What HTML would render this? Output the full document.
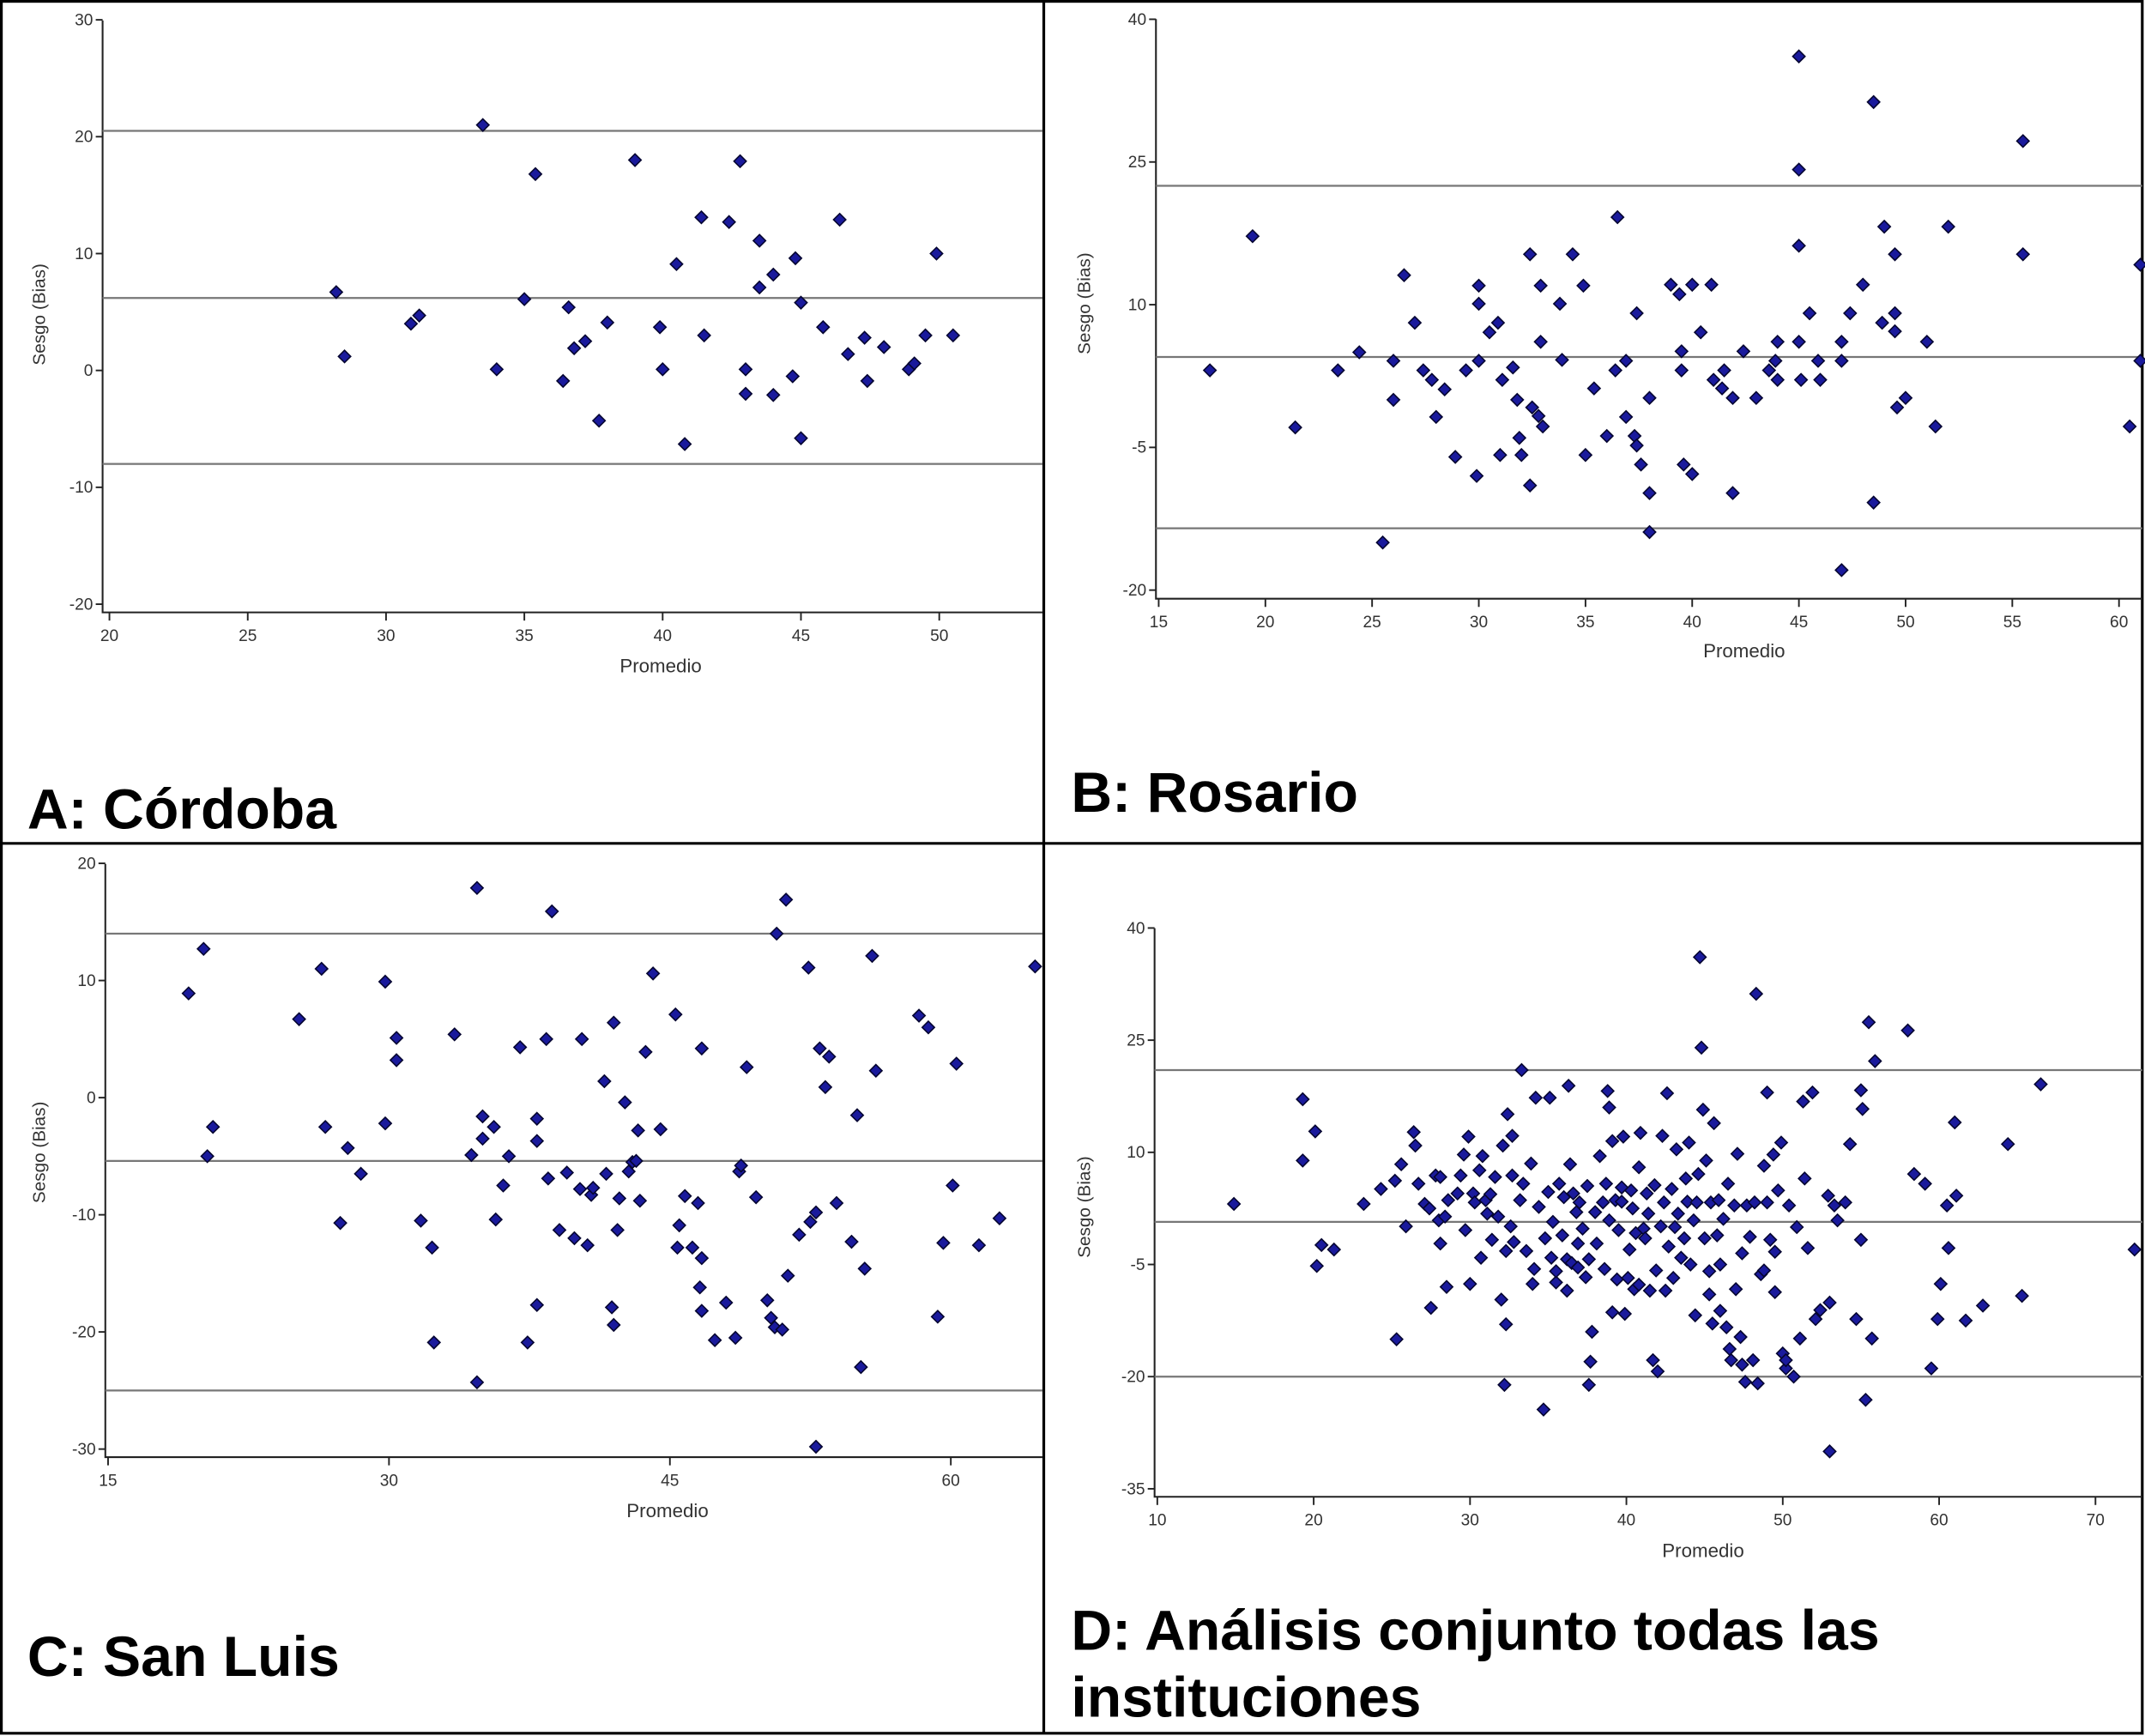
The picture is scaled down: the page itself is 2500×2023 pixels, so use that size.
<!DOCTYPE html>
<html><head><meta charset="utf-8"><style>
html,body{margin:0;padding:0;background:#fff}
svg{display:block}
text{font-family:"Liberation Sans",Arial,sans-serif}
</style></head><body>
<svg id="chart" xmlns="http://www.w3.org/2000/svg" width="2500" height="2023" viewBox="0 0 1568 1270" preserveAspectRatio="none">
<rect x="0" y="0" width="1568" height="1270" fill="#fff"/>
<g stroke="#000" stroke-width="2" fill="none">
<rect x="1" y="1" width="1565" height="1267"/>
<line x1="763" y1="1" x2="763" y2="1268"/>
<line x1="1" y1="617" x2="1566" y2="617"/>
</g>
<text x="20" y="606" font-size="41.5" font-weight="bold">A: Córdoba</text>
<text x="783" y="594" font-size="41.5" font-weight="bold">B: Rosario</text>
<text x="20" y="1226" font-size="41.5" font-weight="bold">C: San Luis</text>
<text x="783" y="1207" font-size="41.5" font-weight="bold">D: Análisis conjunto todas las</text>
<text x="783" y="1256" font-size="41.5" font-weight="bold">instituciones</text>
</svg>
<script>
// ---- data ----
const aX=[28.2,28.5,30.9,31.2,33.5,34,35,35.4,36.4,36.6,36.8,37.2,37.7,38,39,39.9,40,40.5,40.8,41.4,41.5,42.4,42.8,43,43,43.5,43.5,44,44,44.7,44.8,45,45,45.8,46.4,46.7,47.3,47.4,48,48.9,49.1,49.5,49.9,50.5];
const aY=[6.7,1.2,4,4.7,21,0.1,6.1,16.8,-0.9,5.4,1.9,2.5,-4.3,4.1,18,3.7,0.1,9.1,-6.3,13.1,3,12.7,17.9,0.1,-2,11.1,7.1,8.2,-2.1,-0.5,9.6,5.8,-5.8,3.7,12.9,1.4,2.8,-0.9,2,0.1,0.6,3,10,3];
const aLines=[20.5,6.2,-8];
const aXTicks=[20,25,30,35,40,45,50];
const aYTicks=[30,20,10,0,-10,-20];

const bX=[17.4,19.4,21.4,23.4,24.4,25.5,26,26,26.5,27,27.4,27.8,28,28.4,28.9,29.4,29.9,30,30,30,30.5,30.9,31,31.1,31.6,31.8,31.9,32,32.4,32.4,32.5,32.8,32.9,32.9,33,33.8,33.9,34.4,34.9,35,35.4,36,36.4,36.5,36.9,36.9,37.3,37.4,37.4,37.6,38,38,38,39,39.4,39.5,39.5,39.6,40,40,40.4,40.9,41,41.4,41.5,41.9,41.9,42.4,43,43.6,43.9,44,44,45,45,45,45,45.1,45.5,45.9,46,47,47,47,47.4,48,48.5,48.5,49,48.9,49.5,49.5,49.5,49.6,50,51,51.4,52,55.5,55.5,60.5,61,61];
const bY=[3.1,17.2,-2.9,3.1,5,-15,4.1,0,13.1,8.1,3.1,2.1,-1.8,1.1,-6,3.1,-8,12,10.1,4.1,7.1,8.1,-5.8,2.1,3.4,0,-4,-5.8,-9,15.3,-0.8,-1.7,6.1,12,-2.8,10.1,4.2,15.3,12,-5.8,1.2,-3.8,3.1,19.2,4.1,-1.8,-3.8,9.1,-4.8,-6.8,0.2,-9.8,-13.9,12.1,11.1,5.1,3.1,-6.8,12.1,-7.8,7.1,12.1,2.1,1.2,3.1,0.2,-9.8,5.1,0.2,3.1,4.1,2.1,6.1,36.1,24.2,16.2,6.1,2.1,9.1,4.1,2.1,6.1,4.1,-17.9,9.1,12.1,31.3,-10.8,18.2,8.1,9.1,7.2,15.3,-0.8,0.2,6.1,-2.8,18.2,27.2,15.3,-2.8,14.2,4.1];
const bLines=[22.5,4.5,-13.5];
const bXTicks=[15,20,25,30,35,40,45,50,55,60];
const bYTicks=[40,25,10,-5,-20];

const cX=[19.3,20.1,20.3,20.6,25.2,26.4,26.6,27.4,27.8,28.5,29.8,29.8,30.4,30.4,31.7,32.3,32.4,33.5,34.4,34.7,34.7,35,35,35.6,35.7,36.1,36.4,37,37.4,37.9,37.9,37.9,38.4,38.5,38.7,39.1,39.5,39.9,40.2,40.3,40.6,40.8,40.9,41.5,41.6,41.9,42,42,42.2,42.3,42.6,42.8,43,43.2,43.3,43.4,43.7,44.1,44.5,45.3,45.4,45.5,45.8,46.2,46.5,46.6,46.7,46.7,46.7,47.4,48,48.5,48.7,48.8,49.1,49.6,50.2,50.4,50.6,50.7,51,51.2,51.3,51.9,52.4,52.5,52.8,52.8,53,53.3,53.5,53.9,54.7,55,55.2,55.4,55.8,56,58.3,58.8,59.3,59.6,60.1,60.3,61.5,62.6,64.5];
const cY=[8.9,12.7,-5,-2.5,6.7,11,-2.5,-10.7,-4.3,-6.5,9.9,-2.2,5.1,3.2,-10.5,-12.8,-20.9,5.4,-4.9,17.9,-24.3,-3.5,-1.6,-2.5,-10.4,-7.5,-5,4.3,-20.9,-1.8,-3.7,-17.7,5,-6.9,15.9,-11.3,-6.4,-12,-7.8,5,-12.6,-8.3,-7.7,1.4,-6.5,-17.9,-19.4,6.4,-11.3,-8.6,-0.4,-6.3,-5.5,-5.4,-2.8,-8.8,3.9,10.6,-2.7,7.1,-12.8,-10.9,-8.4,-12.8,-9,-16.2,4.2,-13.7,-18.2,-20.7,-17.5,-20.5,-6.3,-5.8,2.6,-8.5,-17.3,-18.8,-19.6,14,-19.8,16.9,-15.2,-11.7,11.1,-10.6,-9.8,-29.8,4.2,0.9,3.5,-9,-12.3,-1.5,-23,-14.6,12.1,2.3,7,6,-18.7,-12.4,-7.5,2.9,-12.6,-10.3,11.2];
const cLines=[14,-5.4,-25];
const cXTicks=[15,30,45,60];
const cYTicks=[20,10,0,-10,-20,-30];

const dX=[14.9,19.3,19.3,20.1,20.2,20.5,21.3,23.2,24.3,25.2,25.3,25.6,25.9,26.4,26.5,26.7,27.1,27.4,27.5,27.8,28,28.1,28.1,28.4,28.5,28.6,29.2,29.4,29.6,29.7,29.9,30,30.2,30.3,30.6,30.7,30.8,31,31.1,31.3,31.4,31.6,31.8,32,32.1,32.2,32.3,32.3,32.4,32.6,32.7,32.7,32.8,33.2,33.3,33.4,33.6,33.9,34,34.1,34.2,34.4,34.7,34.8,35,35.1,35.2,35.3,35.5,35.5,35.7,35.9,36,36.2,36.2,36.3,36.4,36.5,36.6,36.8,36.9,36.9,37,37.2,37.4,37.5,37.6,37.6,37.7,37.8,38,38.1,38.3,38.5,38.6,38.7,38.8,38.9,38.9,39.1,39.1,39.3,39.4,39.5,39.7,39.7,39.8,39.9,40.1,40.2,40.3,40.4,40.5,40.6,40.8,40.8,40.9,41.1,41.2,41.3,41.4,41.5,41.7,41.8,41.9,42,42.2,42.3,42.4,42.5,42.6,42.7,42.9,43,43.1,43.2,43.3,43.5,43.7,43.8,43.9,44,44.1,44.3,44.4,44.5,44.6,44.7,44.8,44.9,45,45.1,45.3,45.3,45.4,45.5,45.6,45.8,45.9,46,46,46.2,46.4,46.5,46.6,46.7,46.9,47,47.1,47.3,47.4,47.4,47.6,47.7,47.9,48.1,48.2,48.3,48.4,48.6,48.8,48.8,49,49,49.2,49.4,49.5,49.5,49.7,49.9,50,50.2,50.2,50.4,50.7,50.9,51.1,51.3,51.4,51.6,51.9,52.1,52.4,52.9,53,53,53.3,53.5,54,54.3,54.7,55,55,55.1,55.3,55.5,55.7,55.9,58,58.4,59.1,59.5,59.9,60.1,60.5,60.6,61,61.1,61.7,62.8,64.4,65.3,66.5,72.5];
const dY=[3.1,17.1,8.9,12.8,-5.2,-2.4,-3,3.1,5.1,6.2,-15,8.4,0.1,12.7,10.9,5.8,3.1,2.5,-10.8,6.9,0.9,-2.2,6.7,1.4,-8,3.6,4.5,6.9,9.7,-0.4,12.1,-7.6,4.5,3.3,7.6,-4.1,9.5,3.6,1.8,4.4,-1.7,6.7,1.4,-9.7,10.9,-21.1,-3.2,-13,15.1,0.1,12.2,6.9,-2,3.6,21,5.8,-3.2,8.5,-7.6,-5.6,17.3,2.7,-24.4,-1.5,4.7,17.3,-4.1,0.7,-7.4,-5.9,5.8,-1.1,4,-8.5,-4.3,18.9,8.4,-4.8,4.5,2,-2.2,-5.4,3.3,-0.2,-6.7,5.5,-21.1,-4.3,-18,-14,2,-2.2,9.5,3.3,-5.6,5.8,18.2,16,0.9,-11.4,11.5,3.6,-7,-0.4,3.4,5.3,12.1,-11.6,-6.8,-3,4.9,2.5,-8.3,-0.8,8,-7.7,12.6,-0.2,-1.5,4.5,1.8,-8.5,-17.8,5.6,-5.8,-19.3,0.1,12.2,3.3,-8.5,17.9,-2.6,5.1,-6.8,0,10.4,1.8,-4.1,-1.5,6.5,3.4,11.3,-5,0.9,-11.8,3.3,7.1,36.1,24,15.7,-1.5,8.9,-5.9,-9,3.3,-12.9,13.9,-1.1,3.6,-5,-11.2,1.1,-13.4,5.8,-16.3,-17.8,2.9,-8.3,9.8,-14.7,-18.4,-3.5,-20.7,2.9,-1.3,-17.8,3.3,31.2,-20.9,-6.3,-5.8,8.2,18,3.3,-1.7,9.7,-3.3,-8.7,4.9,11.3,-16.9,-18.9,-17.8,2.9,-20,0,-14.9,16.8,6.5,-2.8,18,-12.3,-11.1,4.2,-10.1,-30,2.9,0.9,3.3,11.1,-12.3,18.3,-1.7,15.8,-23.1,27.4,-14.9,22.2,26.3,7.1,5.8,-18.9,-12.3,-7.6,2.9,-2.8,14,4.2,-12.5,-10.5,11.1,-9.2,19.1,-3];
const dLines=[21,0.7,-20];
const dXTicks=[10,20,30,40,50,60,70];
const dYTicks=[40,25,10,-5,-20,-35];

// ---- drawing ----
const NS='http://www.w3.org/2000/svg';
const svg=document.getElementById('chart');
function mk(tag,attrs,parent){const e=document.createElementNS(NS,tag);for(const k in attrs)e.setAttribute(k,attrs[k]);(parent||svg).appendChild(e);return e;}

function panel(id,xs,ys,lines,xt,yt,g){
  const sx=v=>g.x0+(v-g.xv0)*g.kx;
  const sy=v=>g.y0-v*g.ky;
  const grp=mk('g',{});
  
  
  const ax=mk('path',{d:`M${g.L},${g.T}V${g.B}H${g.R}`,stroke:'#222','stroke-width':1.3,fill:'none'},grp);
  
  
  xt.forEach(v=>{
    const x=sx(v);
    mk('line',{x1:x,y1:g.B,x2:x,y2:g.B+6,stroke:'#222','stroke-width':1.2},grp);
    const t=mk('text',{x:x,y:g.B+21,'font-size':12,'text-anchor':'middle',fill:'#333'},grp);
    t.textContent=v;
    
    
  });
  yt.forEach(v=>{
    const y=sy(v);
    mk('line',{x1:g.L-5,y1:y,x2:g.L,y2:y,stroke:'#222','stroke-width':1.2},grp);
    const t=mk('text',{x:g.L-7,y:y+4,'font-size':12,'text-anchor':'end',fill:'#333'},grp);
    t.textContent=v;
    
    
  });
  lines.forEach(v=>{
    const l=mk('line',{x1:g.L,y1:sy(v),x2:g.R,y2:sy(v),stroke:'#777','stroke-width':1.4},grp);
    
    
  });
  xs.forEach((v,i)=>{
    const x=sx(v),y=sy(ys[i]);
    if(x>g.R+4)return;
    const p=mk('polygon',{points:`${x},${y-4.5} ${x+4.5},${y} ${x},${y+4.5} ${x-4.5},${y}`,fill:'#1a1a9c',stroke:'#050530','stroke-width':1},grp);
    
    
  });
  const xl=mk('text',{x:g.xlx,y:g.xly,'font-size':14,'text-anchor':'middle',fill:'#333'},grp);
  xl.textContent='Promedio';
  
  
  const yl=mk('text',{x:0,y:0,'font-size':13,'text-anchor':'middle',fill:'#333',transform:`translate(${g.ylx},${g.yly}) rotate(-90)`},grp);
  yl.textContent='Sesgo (Bias)';
  
  
}
panel('panel-a',aX,aY,aLines,aXTicks,aYTicks,{x0:80,xv0:20,kx:20.22,y0:271,ky:8.55,L:75,T:15,B:448,R:762,xlx:483,xly:492,ylx:33,yly:230});
panel('panel-b',bX,bY,bLines,bXTicks,bYTicks,{x0:847,xv0:15,kx:15.6,y0:292.5,ky:6.96,L:845,T:14,B:438,R:1566,xlx:1275,xly:481,ylx:797,yly:222});
panel('panel-c',cX,cY,cLines,cXTicks,cYTicks,{x0:79,xv0:15,kx:13.69,y0:803,ky:8.57,L:77,T:632,B:1066,R:762,xlx:488,xly:1110,ylx:33,yly:843});
panel('panel-d',dX,dY,dLines,dXTicks,dYTicks,{x0:846,xv0:10,kx:11.43,y0:897.7,ky:5.47,L:844,T:679,B:1095,R:1566,xlx:1245,xly:1139,ylx:797,yly:883});
</script>
</body></html>
